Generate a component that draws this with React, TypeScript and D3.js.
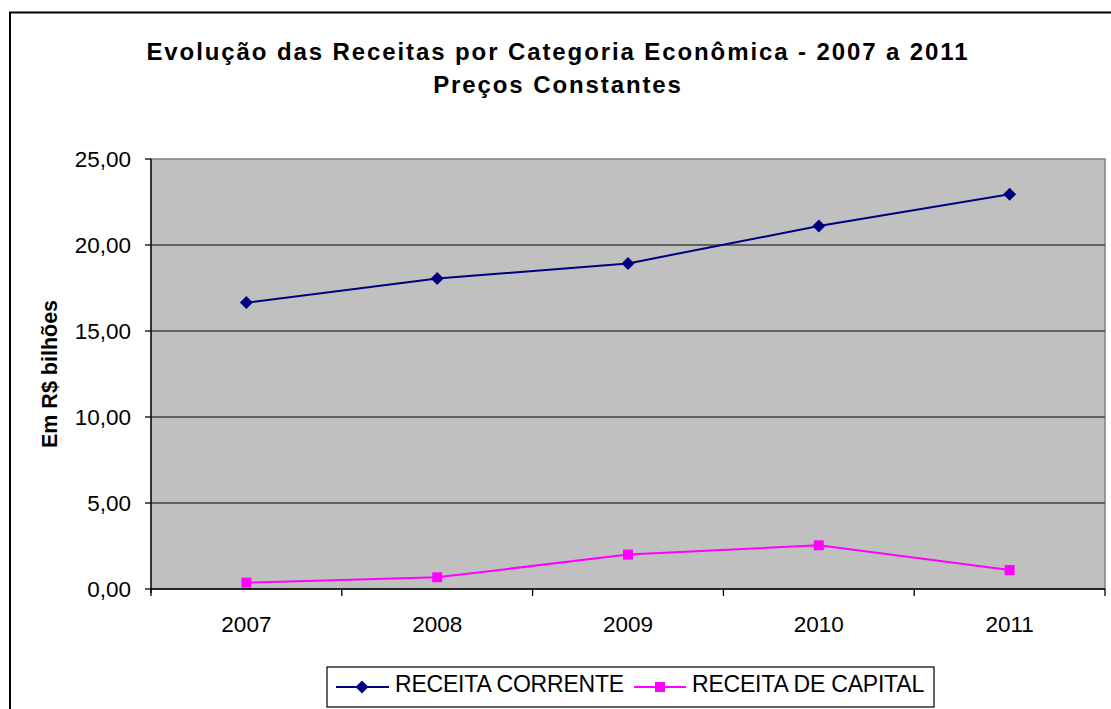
import * as d3 from "d3";
import React from "react";

const years = ["2007", "2008", "2009", "2010", "2011"];
const receitaCorrente = [16.65, 18.05, 18.93, 21.1, 22.95];
const receitaCapital = [0.37, 0.68, 2.0, 2.54, 1.1];
const yTicks = [0, 5, 10, 15, 20, 25];
const titleLines = [
    "Evolução das Receitas por Categoria Econômica - 2007 a 2011",
    "Preços Constantes",
];
const seriesNames = ["RECEITA CORRENTE", "RECEITA DE CAPITAL"];

const width = 1111;
const height = 709;
const plot = { left: 151, right: 1105, top: 159, bottom: 589 };
const font = "'Liberation Sans', Arial, sans-serif";
const navy = "#000080";
const magenta = "#ff00ff";

function App() {
    const xScale = d3
        .scaleBand()
        .domain(years)
        .range([plot.left, plot.right]);

    const yScale = d3
        .scaleLinear()
        .domain([0, 25])
        .range([plot.bottom, plot.top]);

    const xCenter = (d: string) => (xScale(d) || 0) + xScale.bandwidth() / 2;

    const lineBuilder = d3
        .line<number>()
        .x((d, i) => xCenter(years[i]))
        .y((d) => yScale(d));

    const fmt = (v: number) => v.toFixed(2).replace(".", ",");

    const diamond = (cx: number, cy: number, r: number) =>
        `M${cx},${cy - r}L${cx + r},${cy}L${cx},${cy + r}L${cx - r},${cy}Z`;

    const xEdges = years.map((d) => xScale(d) || 0).concat([plot.right]);

    return (
        <svg
            width={width}
            height={height}
            style={{ position: "absolute", left: 0, top: 0, background: "#fff" }}
        >
            {/* outer frame */}
            <rect x={10} y={12.5} width={1110} height={710} fill="#fff" stroke="#000" strokeWidth={2} />

            {/* titles */}
            {titleLines.map((t, i) => (
                <text
                    key={t}
                    x={558}
                    y={60 + i * 33}
                    textAnchor="middle"
                    fontFamily={font}
                    fontWeight="bold"
                    fontSize={24}
                    letterSpacing={1.9}
                    fill="#000"
                >
                    {t}
                </text>
            ))}

            {/* plot area */}
            <rect
                x={plot.left}
                y={plot.top}
                width={plot.right - plot.left}
                height={plot.bottom - plot.top}
                fill="#c0c0c0"
                stroke="#808080"
                strokeWidth={1.5}
            />

            {/* gridlines */}
            {yTicks.slice(1, -1).map((t) => (
                <line
                    key={t}
                    x1={plot.left}
                    x2={plot.right}
                    y1={yScale(t)}
                    y2={yScale(t)}
                    stroke="#404040"
                    strokeWidth={1.3}
                />
            ))}

            {/* y axis */}
            <line x1={plot.left} x2={plot.left} y1={plot.top} y2={plot.bottom + 4} stroke="#000" strokeWidth={1.3} />
            {yTicks.map((t) => (
                <g key={t}>
                    <line x1={plot.left - 6} x2={plot.left} y1={yScale(t)} y2={yScale(t)} stroke="#000" strokeWidth={1.3} />
                    <text
                        x={131}
                        y={yScale(t) + 8}
                        textAnchor="end"
                        fontFamily={font}
                        fontSize={22.5}
                        fill="#000"
                    >
                        {fmt(t)}
                    </text>
                </g>
            ))}
            <text
                transform={`translate(57, ${(plot.top + plot.bottom) / 2}) rotate(-90)`}
                textAnchor="middle"
                fontFamily={font}
                fontWeight="bold"
                fontSize={21.5}
                fill="#000"
            >
                Em R$ bilhões
            </text>

            {/* x axis */}
            <line x1={plot.left} x2={plot.right} y1={plot.bottom} y2={plot.bottom} stroke="#000" strokeWidth={1.3} />
            {xEdges.map((x, i) => (
                <line key={i} x1={x} x2={x} y1={plot.bottom} y2={plot.bottom + 7} stroke="#000" strokeWidth={1.3} />
            ))}
            {years.map((d) => (
                <text
                    key={d}
                    x={xCenter(d)}
                    y={632}
                    textAnchor="middle"
                    fontFamily={font}
                    fontSize={22.5}
                    fill="#000"
                >
                    {d}
                </text>
            ))}

            {/* series */}
            <path d={lineBuilder(receitaCorrente) || undefined} fill="none" stroke={navy} strokeWidth={2} />
            {receitaCorrente.map((v, i) => (
                <path key={i} d={diamond(xCenter(years[i]), yScale(v), 6.5)} fill={navy} />
            ))}
            <path d={lineBuilder(receitaCapital) || undefined} fill="none" stroke={magenta} strokeWidth={2} />
            {receitaCapital.map((v, i) => (
                <rect key={i} x={xCenter(years[i]) - 5} y={yScale(v) - 5} width={10} height={10} fill={magenta} />
            ))}

            {/* legend */}
            <rect x={327} y={667} width={607} height={40} fill="#fff" stroke="#000" strokeWidth={1.2} />
            <line x1={336} x2={389} y1={687} y2={687} stroke={navy} strokeWidth={2} />
            <path d={diamond(362, 687, 6.5)} fill={navy} />
            <text x={395} y={692} fontFamily={font} fontSize={23} letterSpacing={-0.2} fill="#000">
                {seriesNames[0]}
            </text>
            <line x1={634} x2={686} y1={687} y2={687} stroke={magenta} strokeWidth={2} />
            <rect x={655} y={682} width={10} height={10} fill={magenta} />
            <text x={692} y={692} fontFamily={font} fontSize={23} letterSpacing={-0.2} fill="#000">
                {seriesNames[1]}
            </text>
        </svg>
    );
}

export default App;
